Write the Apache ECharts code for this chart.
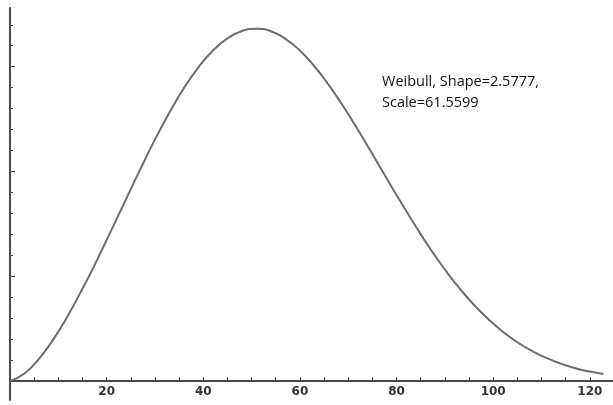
<!DOCTYPE html>
<html>
<head>
<meta charset="utf-8">
<script src="https://cdn.jsdelivr.net/npm/echarts@6/dist/echarts.min.js"></script>
<style>
html,body{margin:0;padding:0;background:#fff;}
#chart{width:613px;height:405px;}
</style>
</head>
<body>
<div id="chart"></div>
<script>
// Curve points (x, density)
const xValues = [0, 3, 6, 9, 12, 15, 18, 21, 24, 27, 30, 33, 36, 39, 42, 45, 48, 51, 54, 57, 60,
  63, 66, 69, 72, 75, 78, 81, 84, 87, 90, 93, 96, 99, 102, 105, 108, 111, 114, 117, 120, 122.8];
const densityValues = [0, 0.00036, 0.00106, 0.00200, 0.00313, 0.00440, 0.00577, 0.00721, 0.00867,
  0.01012, 0.01152, 0.01281, 0.01398, 0.01497, 0.01577, 0.01635, 0.01670, 0.01681, 0.01669,
  0.01633, 0.01577, 0.01502, 0.01412, 0.01310, 0.01199, 0.01083, 0.00965, 0.00849, 0.00737,
  0.00630, 0.00532, 0.00443, 0.00364, 0.00295, 0.00235, 0.00185, 0.00144, 0.00110, 0.00083,
  0.00061, 0.00045, 0.00033];
const xTickLabels = [20, 40, 60, 80, 100, 120];
const yMajorTicks = [0.005, 0.010, 0.015];
const yMinorTicks = [0.001, 0.002, 0.003, 0.004, 0.006, 0.007, 0.008, 0.009,
  0.011, 0.012, 0.013, 0.014, 0.016, 0.017];
const annotationLines = ['Weibull, Shape=2.5777,', 'Scale=61.5599'];

const seriesData = xValues.map((x, i) => [x, densityValues[i]]);

const chart = echarts.init(document.getElementById('chart'), null, {renderer: 'canvas'});
const axisColor = '#4a4a4a';
const yCommon = {
  type: 'value', min: 0, max: 0.0178, position: 'left', gridIndex: 0,
  splitLine: {show: false}, axisLabel: {show: false}
};
chart.setOption({
  animation: false,
  backgroundColor: '#ffffff',
  grid: [
    {left: 10, right: 0, top: 8, bottom: 24, containLabel: false},
    {left: 10, right: 0, top: 381, bottom: 5, containLabel: false}
  ],
  xAxis: [{
    type: 'value', gridIndex: 0, min: 0, max: 124.8, interval: 5,
    axisLine: {onZero: false, lineStyle: {color: axisColor, width: 2}},
    axisTick: {show: true, inside: true, length: 4, lineStyle: {color: axisColor, width: 1}},
    axisLabel: {
      show: true, margin: 5, color: '#333', fontFamily: 'DejaVu Sans', fontWeight: 'bold', fontSize: 12,
      showMaxLabel: false, showMinLabel: false,
      formatter: v => (xTickLabels.indexOf(Math.round(v)) >= 0 && Math.abs(v - Math.round(v)) < 1e-6) ? String(Math.round(v)) : ''
    },
    splitLine: {show: false}
  }, {
    type: 'value', gridIndex: 1, min: 0, max: 1, show: false
  }],
  yAxis: [
    Object.assign({}, yCommon, {
      axisLine: {show: true, onZero: false, lineStyle: {color: axisColor, width: 2}},
      axisTick: {show: true, inside: true, length: 5, customValues: yMajorTicks, lineStyle: {color: axisColor, width: 1}}
    }),
    Object.assign({}, yCommon, {
      axisLine: {show: false, onZero: false},
      axisTick: {show: true, inside: true, length: 3, customValues: yMinorTicks, lineStyle: {color: axisColor, width: 1}}
    }),
    {
      type: 'value', gridIndex: 1, min: 0, max: 1, position: 'left',
      axisLine: {show: true, onZero: false, lineStyle: {color: axisColor, width: 2}},
      axisTick: {show: false}, axisLabel: {show: false}, splitLine: {show: false}
    }
  ],
  series: [{
    type: 'line', data: seriesData, smooth: true, showSymbol: false,
    xAxisIndex: 0, yAxisIndex: 0,
    lineStyle: {color: '#6e6e6e', width: 2}
  }],
  graphic: [{
    type: 'text', left: 382, top: 71,
    style: {
      text: annotationLines.join('\n'), fill: '#111',
      font: '14.5px "Open Sans"', lineHeight: 21
    }
  }]
});
</script>
</body>
</html>
